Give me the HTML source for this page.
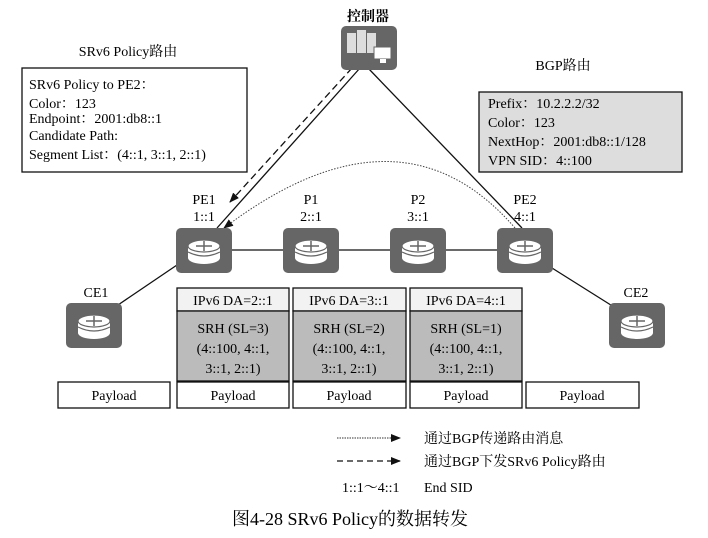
<!DOCTYPE html>
<html><head><meta charset="utf-8"><style>
body{margin:0;background:#fff}
svg{display:block;font-family:"Liberation Serif","Noto Serif CJK SC",serif}
</style></head><body>
<svg width="708" height="538" viewBox="0 0 708 538" xmlns="http://www.w3.org/2000/svg">
<defs>
<marker id="ah" markerWidth="10" markerHeight="8" refX="9" refY="4" orient="auto" markerUnits="userSpaceOnUse"><path d="M0,0 L10,4 L0,8 z" fill="#111"/></marker>
<g id="rt">
<rect x="0" y="0" width="56" height="45" rx="5" fill="#666"/>
<ellipse cx="28" cy="30" rx="16" ry="6" fill="#fff"/>
<rect x="12" y="18" width="32" height="12" fill="#fff"/>
<ellipse cx="28" cy="18" rx="16" ry="6" fill="#fff"/>
<ellipse cx="28" cy="18" rx="16" ry="6" fill="none" stroke="#666" stroke-width="1.2"/>
<path d="M12,24 Q28,32 44,24" fill="none" stroke="#666" stroke-width="1.2"/>
<path d="M20,18 h16 M28,13 v10" stroke="#666" stroke-width="1.5"/>
</g>
</defs>
<line x1="360" y1="68" x2="217" y2="228" stroke="#111" stroke-width="1.3"/>
<line x1="352" y1="68" x2="230" y2="202" stroke="#111" stroke-width="1.3" stroke-dasharray="7,4" marker-end="url(#ah)"/>
<line x1="368" y1="68" x2="522" y2="228" stroke="#111" stroke-width="1.3"/>
<path d="M515,228 Q400,95 224,228" fill="none" stroke="#444" stroke-width="1" stroke-dasharray="1.5,1.5" marker-end="url(#ah)"/>
<line x1="232" y1="250" x2="498" y2="250" stroke="#111" stroke-width="1.3"/>
<line x1="177" y1="265" x2="118" y2="305" stroke="#111" stroke-width="1.3"/>
<line x1="552" y1="268" x2="614" y2="307" stroke="#111" stroke-width="1.3"/>
<text x="368" y="21" font-size="14" text-anchor="middle" font-weight="bold">控制器</text>
<rect x="341" y="26" width="56" height="44" rx="5" fill="#666"/>
<rect x="347" y="33" width="9" height="20" fill="#ddd"/><rect x="357" y="30" width="9" height="23" fill="#ddd"/><rect x="367" y="33" width="9" height="20" fill="#ddd"/>
<rect x="374" y="47" width="17" height="12" fill="#fff" stroke="#666"/><rect x="380" y="59" width="6" height="4" fill="#fff"/>
<use href="#rt" x="176" y="228"/><use href="#rt" x="283" y="228"/><use href="#rt" x="390" y="228"/><use href="#rt" x="497" y="228"/>
<use href="#rt" x="66" y="303"/><use href="#rt" x="609" y="303"/>
<g font-size="14" text-anchor="middle">
<text x="204" y="204">PE1</text><text x="204" y="221">1::1</text>
<text x="311" y="204">P1</text><text x="311" y="221">2::1</text>
<text x="418" y="204">P2</text><text x="418" y="221">3::1</text>
<text x="525" y="204">PE2</text><text x="525" y="221">4::1</text>
<text x="96" y="297">CE1</text><text x="636" y="297">CE2</text>
</g>
<text x="128" y="56" font-size="14" text-anchor="middle">SRv6 Policy路由</text>
<rect x="22" y="68" width="225" height="104" fill="#fff" stroke="#111" stroke-width="1.3"/>
<g font-size="14">
<text x="29" y="89">SRv6 Policy to PE2：</text>
<text x="29" y="108">Color：123</text>
<text x="29" y="123">Endpoint：2001:db8::1</text>
<text x="29" y="140">Candidate Path:</text>
<text x="29" y="159">Segment List：(4::1, 3::1, 2::1)</text>
</g>
<text x="563" y="70" font-size="14" text-anchor="middle">BGP路由</text>
<rect x="479" y="92" width="203" height="80" fill="#ddd" stroke="#111" stroke-width="1.3"/>
<g font-size="14">
<text x="488" y="108">Prefix：10.2.2.2/32</text>
<text x="488" y="127">Color：123</text>
<text x="488" y="146">NextHop：2001:db8::1/128</text>
<text x="488" y="165">VPN SID：4::100</text>
</g>
<g stroke="#111" stroke-width="1.3">
<rect x="177" y="288" width="112" height="23" fill="#f2f2f2"/><rect x="177" y="311" width="112" height="70" fill="#bbb"/><rect x="177" y="382" width="112" height="26" fill="#fff"/>
<rect x="293" y="288" width="113" height="23" fill="#f2f2f2"/><rect x="293" y="311" width="113" height="70" fill="#bbb"/><rect x="293" y="382" width="113" height="26" fill="#fff"/>
<rect x="410" y="288" width="112" height="23" fill="#f2f2f2"/><rect x="410" y="311" width="112" height="70" fill="#bbb"/><rect x="410" y="382" width="112" height="26" fill="#fff"/>
<rect x="58" y="382" width="112" height="26" fill="#fff"/><rect x="526" y="382" width="113" height="26" fill="#fff"/>
</g>
<g font-size="14" text-anchor="middle">
<text x="233" y="305">IPv6 DA=2::1</text><text x="349" y="305">IPv6 DA=3::1</text><text x="466" y="305">IPv6 DA=4::1</text>
<text x="233" y="333">SRH (SL=3)</text><text x="233" y="353">(4::100, 4::1,</text><text x="233" y="373">3::1, 2::1)</text>
<text x="349" y="333">SRH (SL=2)</text><text x="349" y="353">(4::100, 4::1,</text><text x="349" y="373">3::1, 2::1)</text>
<text x="466" y="333">SRH (SL=1)</text><text x="466" y="353">(4::100, 4::1,</text><text x="466" y="373">3::1, 2::1)</text>
<text x="114" y="400">Payload</text><text x="233" y="400">Payload</text><text x="349" y="400">Payload</text><text x="466" y="400">Payload</text><text x="582" y="400">Payload</text>
</g>
<line x1="337" y1="438" x2="400" y2="438" stroke="#333" stroke-width="1" stroke-dasharray="1.5,1" marker-end="url(#ah)"/>
<line x1="337" y1="461" x2="400" y2="461" stroke="#111" stroke-width="1.3" stroke-dasharray="6,4" marker-end="url(#ah)"/>
<g font-size="14">
<text x="424" y="443">通过BGP传递路由消息</text>
<text x="424" y="466">通过BGP下发SRv6 Policy路由</text>
<text x="342" y="492">1::1～4::1</text>
<text x="424" y="492">End SID</text>
</g>
<text x="350" y="525" font-size="18" text-anchor="middle">图4-28 SRv6 Policy的数据转发</text>
</svg>
</body></html>
